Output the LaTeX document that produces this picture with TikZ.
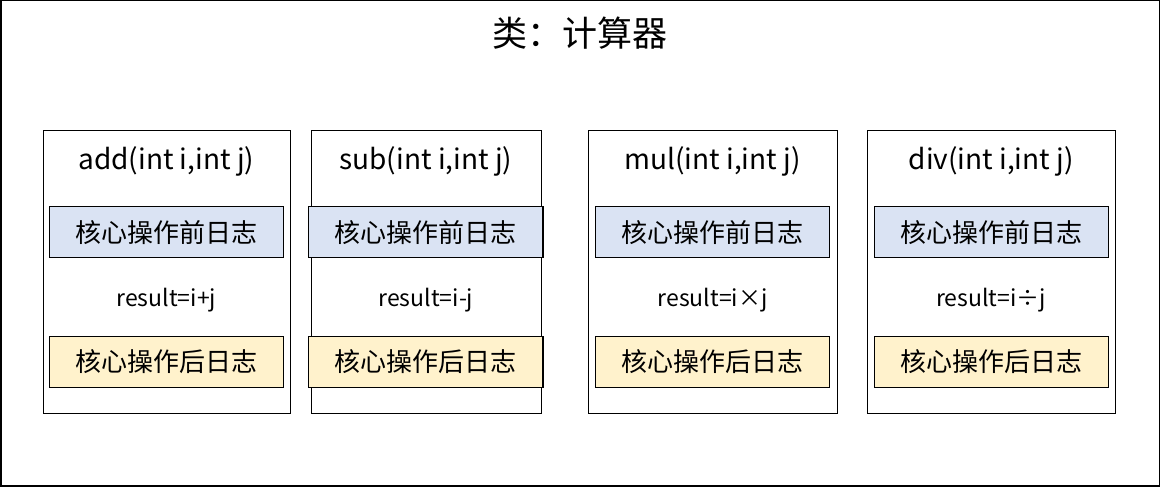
\documentclass[tikz,border=0pt]{standalone}
\usepackage{fontspec}
\setmainfont{Noto Sans CJK SC}
\usetikzlibrary{positioning}
\definecolor{preblue}{HTML}{DAE3F3}
\definecolor{postyellow}{HTML}{FFF2CC}
\tikzset{
  methodbox/.style={draw,line width=1.2pt,anchor=north west},
  logbox/.style={draw,line width=1.2pt,minimum width=234pt,minimum height=51pt,font=\fontsize{26}{30}\selectfont},
}
\begin{document}
\begin{tikzpicture}[x=1pt,y=-1pt]
  % outer frame
  \draw[line width=1.5pt] (1,1) rectangle (1159,486);
  \node[font=\fontsize{35}{40}\selectfont] (title) at (580,33) {类：计算器};

  % method boxes          left x / width / header / formula
  \foreach \n/\x/\w/\head/\res in {add/43/247/add(int i{,}int j)/result=i+j,
                                   sub/311/230/sub(int i{,}int j)/result=i-j,
                                   mul/588/249/mul(int i{,}int j)/result=i×j,
                                   div/867/248/div(int i{,}int j)/result=i÷j}{
    \node[methodbox,minimum width=\w pt,minimum height=283pt] (\n) at (\x,130) {};
    \node[font=\fontsize{28}{32}\selectfont] (\n-head) at (\x+\w/2,162) {\head};
    \node[logbox,fill=preblue] (\n-pre) at (\x+\w/2,232.5) {核心操作前日志};
    \node[font=\fontsize{23}{28}\selectfont] (\n-res) at (\x+\w/2,300) {\res};
    \node[logbox,fill=postyellow] (\n-post) at (\x+\w/2,362) {核心操作后日志};
  }
\end{tikzpicture}
\end{document}
